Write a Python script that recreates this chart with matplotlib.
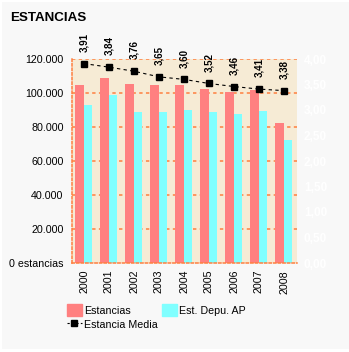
import matplotlib.pyplot as plt
from matplotlib.patches import Rectangle, Patch
from matplotlib.lines import Line2D
import numpy as np

# data
years = ['2000', '2001', '2002', '2003', '2004', '2005', '2006', '2007', '2008']
estancias = [104700, 108800, 105300, 104700, 104700, 102400, 100600, 101800, 82500]
est_depu_ap = [92900, 98600, 88800, 88800, 90000, 88800, 87600, 89400, 72400]
estancia_media = [3.91, 3.84, 3.76, 3.65, 3.60, 3.52, 3.46, 3.41, 3.38]
left_ticks = [0, 20000, 40000, 60000, 80000, 100000, 120000]
right_ticks = [0, 0.5, 1, 1.5, 2, 2.5, 3, 3.5, 4]

W, H = 349, 352
plt.rcParams['font.family'] = ['Liberation Sans', 'DejaVu Sans']
fig = plt.figure(figsize=(W / 100, H / 100), dpi=100, facecolor='white')
# light grey panel inside a thin white border
fig.patches.append(Rectangle((2 / W, 3 / H), 347 / W, 347 / H, transform=fig.transFigure,
                             facecolor='#F8F8F8', edgecolor='none', zorder=-10))

ax = fig.add_axes([72 / W, 1 - 263 / H, 225 / W, 204 / H])
ax.set_facecolor('#F6EBD5')
x = np.arange(len(years))
ax.bar(x - 0.2, estancias, width=0.34, color='#FF8080', zorder=2)
ax.bar(x + 0.14, est_depu_ap, width=0.34, color='#80FFFF', zorder=2)
ax.set_xlim(-0.5, len(years) - 0.5)
ax.set_ylim(0, 120000)
ax.set_yticks(left_ticks)
ax.set_yticklabels(['0 estancias' if v == 0 else f'{v:,}'.replace(',', '.') for v in left_ticks])
ax.set_xticks(x - 0.02)
ax.set_xticklabels(years, rotation=90)
ax.tick_params(axis='both', length=0, labelsize=7.7)
ax.tick_params(axis='y', pad=6)
ax.tick_params(axis='x', pad=5)
for v in left_ticks[1:]:
    ax.axhline(v, color='#FF7F3F', lw=1.1, ls=(0, (2.2, 2.2)), zorder=1)
for s in ['top', 'right']:
    ax.spines[s].set_visible(False)
for s in ['left', 'bottom']:
    ax.spines[s].set_color('#FF7F3F')
    ax.spines[s].set_linestyle((0, (1.5, 1.5)))
    ax.spines[s].set_linewidth(1.1)

ax2 = ax.twinx()
ax2.set_ylim(0, 4)
ax2.set_yticks(right_ticks)
ax2.set_yticklabels([f'{v:.2f}'.replace('.', ',') for v in right_ticks])
ax2.tick_params(axis='y', length=0, labelsize=8.5, labelcolor='white', pad=5)
for lab in ax2.get_yticklabels():
    lab.set_fontweight('bold')
for s in ax2.spines.values():
    s.set_visible(False)
ax2.plot(x - 0.02, estancia_media, color='black', lw=0.8, ls=(0, (3, 3)),
         marker='s', markersize=5, zorder=5)
for xi, v in zip(x - 0.02, estancia_media):
    ax2.annotate(f'{v:.2f}'.replace('.', ','), (xi, v), xytext=(0, 8.5),
                 textcoords='offset points', rotation=90, ha='center', va='bottom',
                 fontsize=7, fontweight='bold', annotation_clip=False)

fig.text(10 / W, 1 - 12 / H, 'ESTANCIAS', fontsize=9.6, fontweight='bold', va='top', ha='left')

handles = [Patch(color='#FF8080'),
           Line2D([], [], color='black', lw=0.8, ls=(0, (2, 2)), marker='s', markersize=5),
           Patch(color='#80FFFF')]
labels = ['Estancias', 'Estancia Media', 'Est. Depu. AP']
fig.legend(handles, labels, loc='upper left', bbox_to_anchor=(67 / W, 1 - 304 / H),
           ncol=2, frameon=False, fontsize=7.7, borderpad=0, borderaxespad=0,
           handlelength=1.4, handleheight=1.4, handletextpad=0.2,
           labelspacing=0.15, columnspacing=0.4)

fig.savefig('out.png', dpi=100, facecolor='white')
